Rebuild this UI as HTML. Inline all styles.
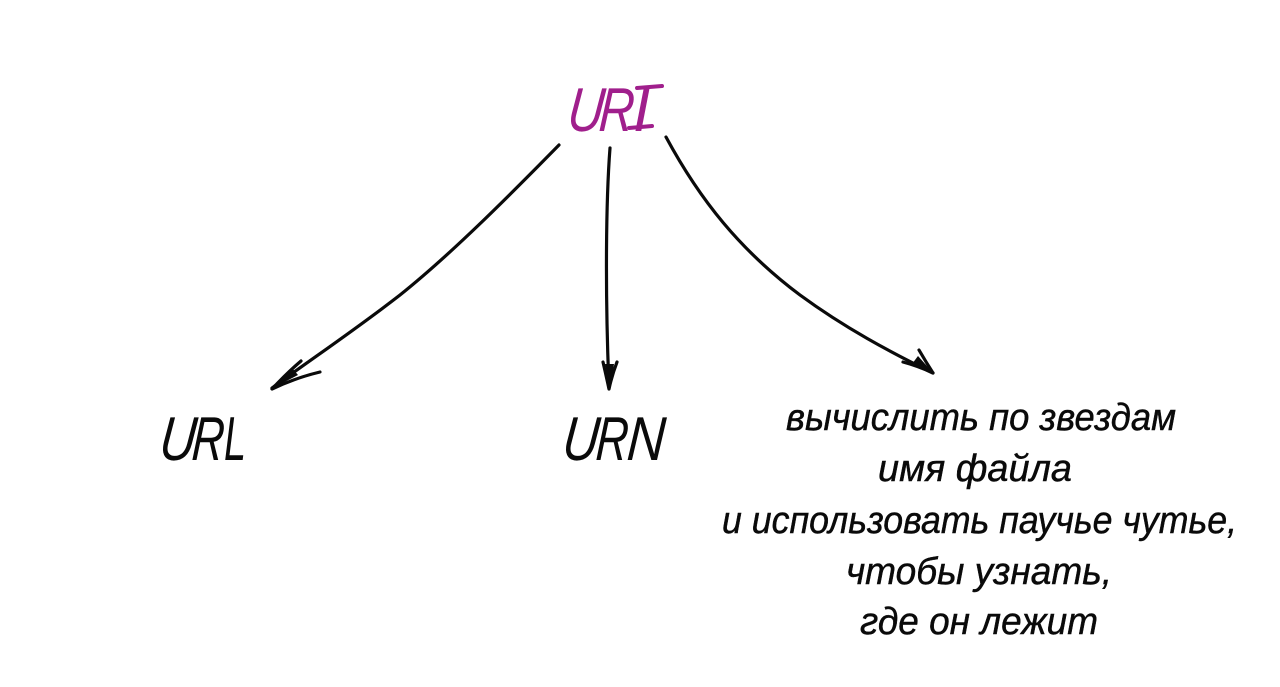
<!DOCTYPE html>
<html lang="ru">
<head>
<meta charset="utf-8">
<style>
html,body{margin:0;padding:0;background:#fff;width:1280px;height:687px;overflow:hidden}
svg{display:block}
text{font-family:"Liberation Sans","DejaVu Sans",sans-serif;font-style:italic;text-anchor:start}
</style>
</head>
<body>
<svg width="1280" height="687" viewBox="0 0 1280 687" xmlns="http://www.w3.org/2000/svg">
<rect width="1280" height="687" fill="#fff"/>
<g fill="none" stroke="#0a0a0a" stroke-width="3.2" stroke-linecap="round" stroke-linejoin="round">
<path d="M559 145 C505 200 450 255 400 295 C355 330 310 360 272 388"/>
<path d="M301 361 Q288 372 272 389 Q295 378 320 372"/>
<path d="M610 148 C606 200 605 290 609 388"/>
<path d="M603 362 Q606 375 609 389 Q612 375 617 362"/>
<path d="M666 137 C700 200 740 250 800 295 C845 328 890 352 933 373"/>
<path d="M903 362 Q918 366 933 373 Q926 362 919 350"/>
</g>
<g fill="#0a0a0a">
<polygon points="271,389 292,368 298,375"/>
<polygon points="610,390 605,364 614,364"/>
<polygon points="934,374 912,364 918,356"/>
</g>
<g fill="#a01f8c" font-size="62">
<text transform="translate(566 131) skewX(-6)" x="0" y="0" textLength="36" lengthAdjust="spacingAndGlyphs">U</text>
<text transform="translate(598 131) skewX(-4)" x="0" y="0" textLength="35" lengthAdjust="spacingAndGlyphs">R</text>
<text x="633" y="131">I</text>
</g>
<path d="M637 88 L662 86 M629 128 L652 126" fill="none" stroke="#a01f8c" stroke-width="4" stroke-linecap="round"/>
<g fill="#0a0a0a" font-size="62">
<text transform="translate(158 460) skewX(-6)" x="0" y="0" textLength="36" lengthAdjust="spacingAndGlyphs">U</text>
<text transform="translate(191 460) skewX(-4)" x="0" y="0" textLength="32" lengthAdjust="spacingAndGlyphs">R</text>
<text transform="translate(224 460)" x="0" y="0" textLength="22" lengthAdjust="spacingAndGlyphs">L</text>
<text transform="translate(561 460) skewX(-6)" x="0" y="0" textLength="36" lengthAdjust="spacingAndGlyphs">U</text>
<text transform="translate(595 460) skewX(-4)" x="0" y="0" textLength="32" lengthAdjust="spacingAndGlyphs">R</text>
<text transform="translate(626 460) skewX(-4)" x="0" y="0" textLength="38" lengthAdjust="spacingAndGlyphs">N</text>
</g>
<g fill="#0a0a0a" stroke="#0a0a0a" stroke-width="0.45" font-size="38">
<text x="786" y="430" textLength="390" lengthAdjust="spacingAndGlyphs">вычислить по звездам</text>
<text x="878" y="481" textLength="194" lengthAdjust="spacingAndGlyphs">имя файла</text>
<text x="722" y="533" textLength="515" lengthAdjust="spacingAndGlyphs">и использовать паучье чутье,</text>
<text x="846" y="584" textLength="266" lengthAdjust="spacingAndGlyphs">чтобы узнать,</text>
<text x="860" y="634" textLength="238" lengthAdjust="spacingAndGlyphs">где он лежит</text>
</g>
</svg>
</body>
</html>
